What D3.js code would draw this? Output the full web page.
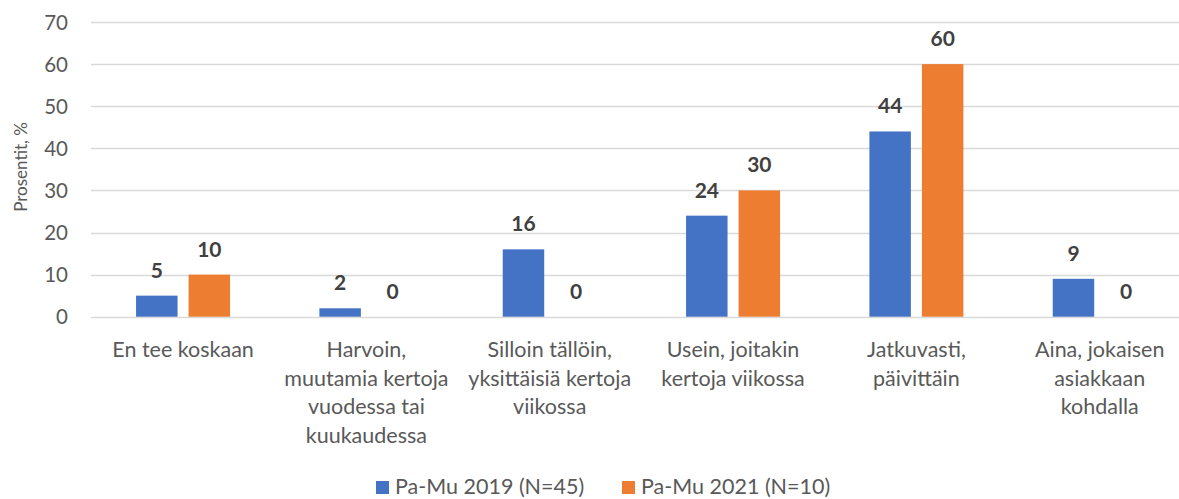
<!DOCTYPE html>
<html>
  <head>
    <meta charset="utf-8">
    <script src="https://d3js.org/d3.v7.min.js"></script>
    <style>
body { margin: 0; background: #fff; }
svg text { font-family: Lato, 'Open Sans', sans-serif; fill: #595959; }
.grid line { stroke: #d9d9d9; stroke-width: 1.3px; }
.val { font-weight: bold; fill: #404040; }
    </style>
  </head>
  <body>
<svg></svg>
<script>
const categories = [
  ["En tee koskaan"],
  ["Harvoin,", "muutamia kertoja", "vuodessa tai", "kuukaudessa"],
  ["Silloin tällöin,", "yksittäisiä kertoja", "viikossa"],
  ["Usein, joitakin", "kertoja viikossa"],
  ["Jatkuvasti,", "päivittäin"],
  ["Aina, jokaisen", "asiakkaan", "kohdalla"]
];
const seriesNames = ["Pa-Mu 2019 (N=45)", "Pa-Mu 2021 (N=10)"];
const values2019 = [5, 2, 16, 24, 44, 9];
const values2021 = [10, 0, 0, 30, 60, 0];
const yTicks = [0, 10, 20, 30, 40, 50, 60, 70];
const colors = ["#4472c4", "#ed7d31"];

const width = 1179, height = 499;
const svg = d3.select("svg").attr("width", width).attr("height", height);

const catIdx = d3.range(categories.length);
const x = d3.scaleBand().domain(catIdx).range([91.4, 1191.4]);
const y = d3.scaleLinear().domain([0, 70]).range([316.7, 22]);
const inner = d3.scaleBand().domain([0, 1]).range([-47, 47]).paddingInner(0.21);

// gridlines
svg.append("g").attr("class", "grid")
  .selectAll("line").data(yTicks).join("line")
    .attr("x1", 91).attr("x2", width)
    .attr("y1", d => Math.round(y(d)) + 0.5).attr("y2", d => Math.round(y(d)) + 0.5);

// y axis labels
const yAxis = d3.axisLeft(y).tickValues(yTicks).tickSize(0).tickPadding(0);
const ya = svg.append("g").attr("transform", "translate(68,0)").call(yAxis);
ya.select(".domain").remove();
ya.selectAll("text").attr("font-size", 20.5).attr("dy", "0.35em")
  .style("font-family", "Lato, sans-serif").attr("fill", "#595959");

svg.append("text")
  .attr("transform", "translate(27,167) rotate(-90)")
  .attr("text-anchor", "middle")
  .attr("font-size", 17)
  .text("Prosentit, %");

const data = catIdx.map(i => [values2019[i], values2021[i]]);

const groups = svg.append("g").selectAll("g").data(data).join("g")
  .attr("transform", (d, i) => `translate(${x(i) + x.bandwidth() / 2},0)`);

groups.selectAll("rect").data(d => d.map((v, s) => ({v, s}))).join("rect")
  .attr("x", d => inner(d.s))
  .attr("width", inner.bandwidth())
  .attr("y", d => y(d.v))
  .attr("height", d => y(0) - y(d.v))
  .attr("fill", d => colors[d.s]);

groups.selectAll("text.val").data(d => d.map((v, s) => ({v, s}))).join("text")
  .attr("class", "val")
  .attr("x", d => inner(d.s) + inner.bandwidth() / 2)
  .attr("y", d => y(d.v) - 18)
  .attr("text-anchor", "middle")
  .attr("font-size", 21)
  .text(d => d.v);

// category labels
const cl = svg.append("g").selectAll("text").data(categories).join("text")
  .attr("x", (d, i) => x(i) + x.bandwidth() / 2)
  .attr("y", 357)
  .attr("text-anchor", "middle")
  .attr("font-size", 21.5);
cl.selectAll("tspan").data(d => d).join("tspan")
  .attr("x", function() { return this.parentNode.getAttribute("x"); })
  .attr("dy", (d, j) => j ? 28.5 : 0)
  .text(d => d);

// legend
const leg = svg.append("g").selectAll("g").data(seriesNames).join("g")
  .attr("transform", (d, i) => `translate(${376 + i * 246},481)`);
leg.append("rect").attr("width", 13).attr("height", 13).attr("fill", (d, i) => colors[i]);
leg.append("text").attr("x", 19).attr("y", 12.5).attr("font-size", 21.5).text(d => d);
</script>
  </body>
</html>
